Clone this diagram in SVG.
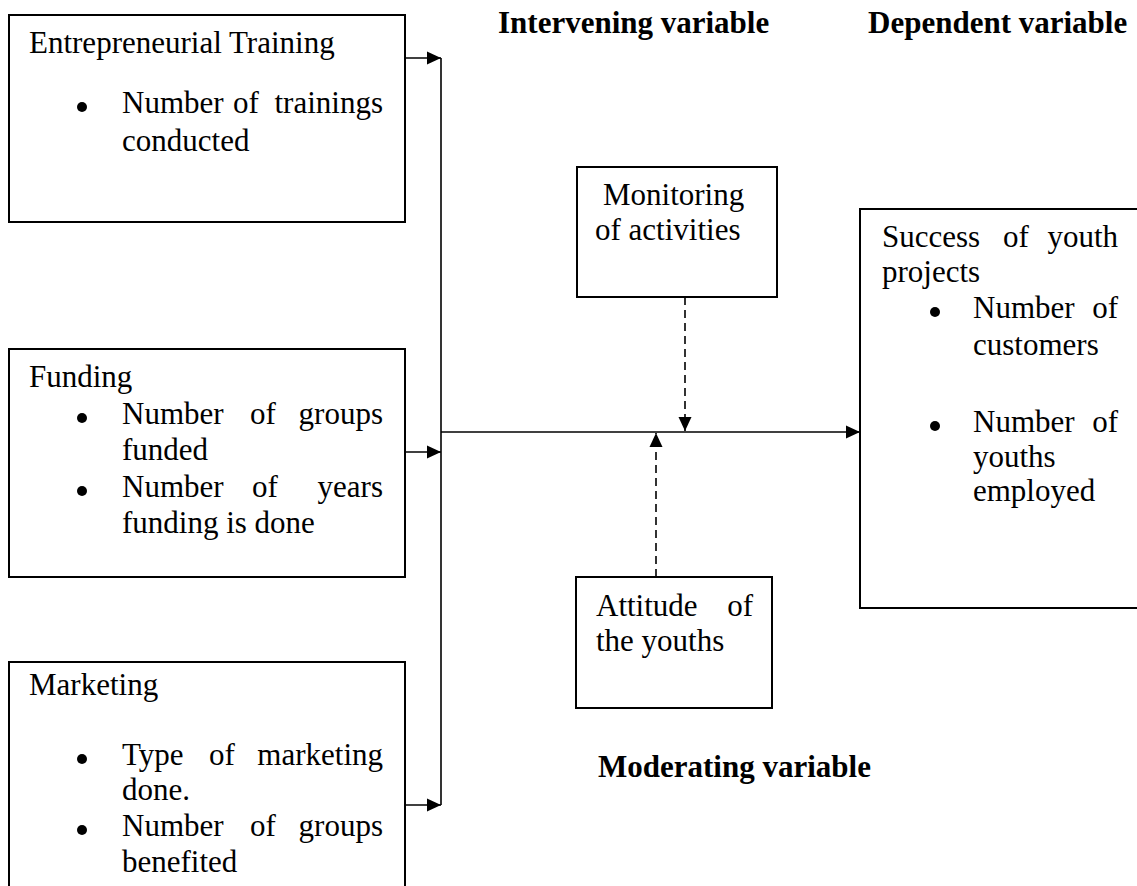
<svg xmlns="http://www.w3.org/2000/svg" width="1137" height="886" viewBox="0 0 1137 886">
<style>
  .box { fill: #fff; stroke: #000; stroke-width: 2; }
  .t { font-family: "Liberation Serif", "Times New Roman", serif; font-size: 31px; fill: #000; }
  .h { font-family: "Liberation Serif", "Times New Roman", serif; font-size: 31px; font-weight: bold; fill: #000; }
  .e { text-anchor: end; }
  .bl { fill: #000; }
  .ln { fill: none; stroke: #000; stroke-width: 1.6; }
  .dash { fill: none; stroke: #000; stroke-width: 1.6; stroke-dasharray: 8 5; }
</style>
<defs>
  <marker id="arr" viewBox="0 0 14 14" refX="14" refY="7" markerWidth="14" markerHeight="14" markerUnits="userSpaceOnUse" orient="auto">
    <path d="M0,0.5 L14,7 L0,13.5 z" fill="#000"/>
  </marker>
</defs>
<rect width="1137" height="886" fill="#fff"/>

<g id="connectors">
  <path class="ln" d="M405,58 H441" marker-end="url(#arr)"/>
  <path class="ln" d="M405,452 H441" marker-end="url(#arr)"/>
  <path class="ln" d="M405,805 H441" marker-end="url(#arr)"/>
  <path class="ln" d="M441,58 V805"/>
  <path class="ln" d="M441,432 H860" marker-end="url(#arr)"/>
  <path class="dash" d="M685,297 V431" marker-end="url(#arr)"/>
  <path class="dash" d="M656,577 V433" marker-end="url(#arr)"/>
</g>

<g id="n-training">
  <rect class="box" x="9" y="15" width="396" height="207"/>
  <text class="t" x="29" y="53">Entrepreneurial Training</text>
  <circle class="bl" cx="82" cy="107" r="5"/>
  <text class="t" x="122" y="113">Number</text>
  <text class="t" x="233" y="113">of</text>
  <text class="t e" x="383" y="113">trainings</text>
  <text class="t" x="122" y="151">conducted</text>
</g>

<g id="n-funding">
  <rect class="box" x="9" y="349" width="396" height="228"/>
  <text class="t" x="29" y="387">Funding</text>
  <circle class="bl" cx="82" cy="418" r="5"/>
  <text class="t" x="122" y="424">Number</text>
  <text class="t" x="250" y="424">of</text>
  <text class="t e" x="383" y="424">groups</text>
  <text class="t" x="122" y="460">funded</text>
  <circle class="bl" cx="82" cy="491" r="5"/>
  <text class="t" x="122" y="497">Number</text>
  <text class="t" x="252" y="497">of</text>
  <text class="t e" x="383" y="497">years</text>
  <text class="t" x="122" y="533">funding is done</text>
</g>

<g id="n-marketing">
  <rect class="box" x="9" y="662" width="396" height="240"/>
  <text class="t" x="29" y="695">Marketing</text>
  <circle class="bl" cx="82" cy="759" r="5"/>
  <text class="t" x="122" y="765">Type</text>
  <text class="t" x="209" y="765">of</text>
  <text class="t e" x="383" y="765">marketing</text>
  <text class="t" x="122" y="800">done.</text>
  <circle class="bl" cx="82" cy="830" r="5"/>
  <text class="t" x="122" y="836">Number</text>
  <text class="t" x="250" y="836">of</text>
  <text class="t e" x="383" y="836">groups</text>
  <text class="t" x="122" y="872">benefited</text>
</g>

<g id="n-monitoring">
  <rect class="box" x="577" y="167" width="200" height="130"/>
  <text class="t" x="603" y="205">Monitoring</text>
  <text class="t" x="595" y="240">of activities</text>
</g>

<g id="n-attitude">
  <rect class="box" x="576" y="577" width="196" height="131"/>
  <text class="t" x="596" y="616">Attitude</text>
  <text class="t e" x="753" y="616">of</text>
  <text class="t" x="596" y="651">the youths</text>
</g>

<g id="n-success">
  <rect class="box" x="860" y="209" width="290" height="399"/>
  <text class="t" x="882" y="247">Success</text>
  <text class="t" x="1003" y="247">of</text>
  <text class="t e" x="1118" y="247">youth</text>
  <text class="t" x="882" y="282">projects</text>
  <circle class="bl" cx="935" cy="312" r="5"/>
  <text class="t" x="973" y="318">Number</text>
  <text class="t e" x="1118" y="318">of</text>
  <text class="t" x="973" y="355">customers</text>
  <circle class="bl" cx="935" cy="426" r="5"/>
  <text class="t" x="973" y="432">Number</text>
  <text class="t e" x="1118" y="432">of</text>
  <text class="t" x="973" y="467">youths</text>
  <text class="t" x="973" y="501">employed</text>
</g>

<g id="labels">
  <text class="h" x="498" y="33">Intervening variable</text>
  <text class="h" x="868" y="33">Dependent variable</text>
  <text class="h" x="598" y="777">Moderating variable</text>
</g>
</svg>
